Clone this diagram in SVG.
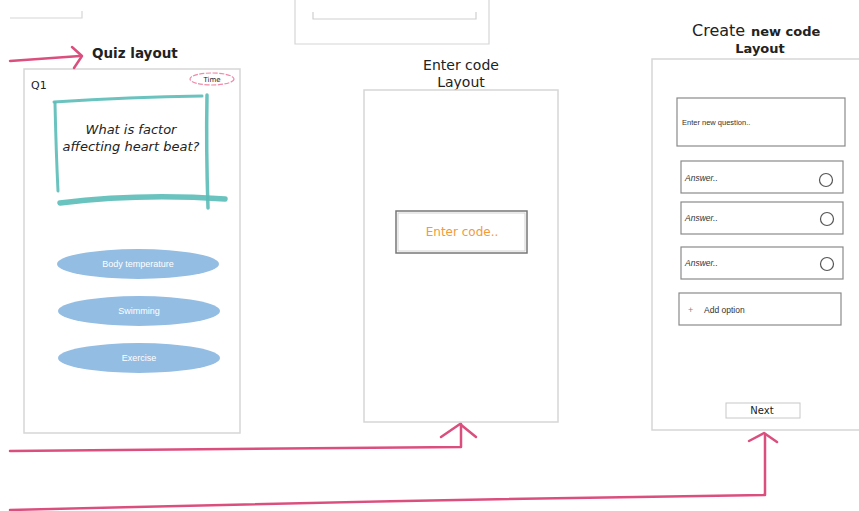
<svg xmlns="http://www.w3.org/2000/svg" width="859" height="511" viewBox="0 0 859 511">
<defs>
<style>
.frame{fill:#fff;stroke:#d6d6d6;stroke-width:1.5}
.box{fill:#fff;stroke:#8a8a8a;stroke-width:1.2}
.conn{fill:none;stroke:#db4f7f;stroke-width:2.5;stroke-linecap:round;stroke-linejoin:round}
.teal{fill:none;stroke:#5bbcb8;stroke-linecap:round;stroke-opacity:0.9}
.t{font-family:"DejaVu Sans","Liberation Sans",sans-serif;fill:#222}
.opt{fill:#93bde3}
.optt{font-family:"Liberation Sans",sans-serif;font-size:9px;fill:#fff;text-anchor:middle}
.ans{font-family:"Liberation Sans",sans-serif;font-size:8.5px;font-style:italic;fill:#333}
.radio{fill:#fff;stroke:#555;stroke-width:1.2}
</style>
</defs>
<rect width="859" height="511" fill="#fff"/>

<g id="topleft-partial">
<path d="M10 18 H82 V11" fill="none" stroke="#d6d6d6" stroke-width="1.2"/>
</g>
<g id="topmid-partial">
<path d="M295 0 V44 H489 V0" fill="none" stroke="#d6d6d6" stroke-width="1.2"/>
<path d="M313 12 V19 H476 V12" fill="none" stroke="#cfcfcf" stroke-width="1.2"/>
</g>

<g id="quiz">
<text class="t" x="92" y="58" font-size="13.5" font-weight="bold">Quiz layout</text>
<rect class="frame" x="24" y="69" width="216" height="364"/>
<text class="t" x="31" y="89" font-size="11">Q1</text>
<ellipse cx="212" cy="79" rx="22" ry="6" fill="#fff" stroke="#f08aa8" stroke-width="1.2" stroke-dasharray="5 1.5"/>
<text class="t" x="212" y="81.5" font-size="7" text-anchor="middle">Time</text>
<path class="teal" stroke-width="3" d="M54 102 Q130 97 202 96"/>
<path class="teal" stroke-width="3" d="M55 103 Q56 150 58 191"/>
<path class="teal" stroke-width="3.5" d="M207 95 Q206 150 208 208"/>
<path class="teal" stroke-width="5.5" d="M60 203 Q140 193 225 199"/>
<text class="t" x="131" y="134" font-size="13" font-style="italic" text-anchor="middle">What is factor</text>
<text class="t" x="131" y="151" font-size="13" font-style="italic" text-anchor="middle">affecting heart beat?</text>
<ellipse class="opt" cx="138" cy="264" rx="81" ry="15"/>
<text class="optt" x="138" y="267">Body temperature</text>
<ellipse class="opt" cx="139" cy="311" rx="81" ry="15"/>
<text class="optt" x="139" y="314">Swimming</text>
<ellipse class="opt" cx="139" cy="358" rx="81" ry="15"/>
<text class="optt" x="139" y="361">Exercise</text>
</g>

<g id="enter-code">
<text class="t" x="461" y="70" font-size="14" text-anchor="middle">Enter code</text>
<text class="t" x="461" y="87" font-size="14" text-anchor="middle">Layout</text>
<rect class="frame" x="364" y="90" width="194" height="332"/>
<rect x="396" y="211" width="131" height="42" fill="#fff" stroke="#777" stroke-width="1.5"/>
<rect x="398" y="213" width="127" height="38" fill="none" stroke="#c8c8c8" stroke-width="0.8"/>
<text x="462" y="236" font-family="DejaVu Sans,Liberation Sans,sans-serif" font-size="12" fill="#f39a3a" text-anchor="middle">Enter code..</text>
</g>

<g id="create-code">
<text class="t" x="692" y="36" font-size="16">Create</text>
<text class="t" x="751" y="36" font-size="13" font-weight="bold">new code</text>
<text class="t" x="760" y="53" font-size="13" font-weight="bold" text-anchor="middle">Layout</text>
<rect class="frame" x="652" y="59" width="220" height="371"/>
<rect class="box" x="677" y="98" width="168" height="48"/>
<text x="682" y="125" font-family="Liberation Sans,sans-serif" font-size="7.5" fill="#333">Enter new question..</text>
<g id="answer1"><rect class="box" x="681" y="161" width="162" height="32"/><text class="ans" x="685" y="181">Answer..</text><circle class="radio" cx="826" cy="180" r="6.5"/></g>
<g id="answer2"><rect class="box" x="681" y="202" width="162" height="32"/><text class="ans" x="685" y="221">Answer..</text><circle class="radio" cx="827" cy="219" r="6.5"/></g>
<g id="answer3"><rect class="box" x="681" y="247" width="162" height="32"/><text class="ans" x="685" y="266">Answer..</text><circle class="radio" cx="827" cy="264" r="6.5"/></g>
<g id="add-option"><rect class="box" x="679" y="293" width="162" height="32"/><text x="688" y="313" font-family="Liberation Sans,sans-serif" font-size="9" fill="#888">+</text><text x="704" y="313" font-family="Liberation Sans,sans-serif" font-size="8.5" fill="#333">Add option</text></g>
<g id="next"><rect x="726" y="403" width="74" height="15" fill="#fff" stroke="#c8c8c8" stroke-width="1"/><text class="t" x="762" y="414" font-size="10" text-anchor="middle">Next</text></g>
</g>

<g id="connectors">
<path class="conn" d="M10 61 L80 56"/>
<path class="conn" d="M72 47 L82 56 L74 68"/>
<path class="conn" d="M10 451 L461 447 L461 424"/>
<path class="conn" d="M441 437 L460 424 L476 437"/>
<path class="conn" d="M10 510 Q400 500 765 495 L765 434"/>
<path class="conn" d="M749 441 L764 433 L777 442"/>
</g>
</svg>
